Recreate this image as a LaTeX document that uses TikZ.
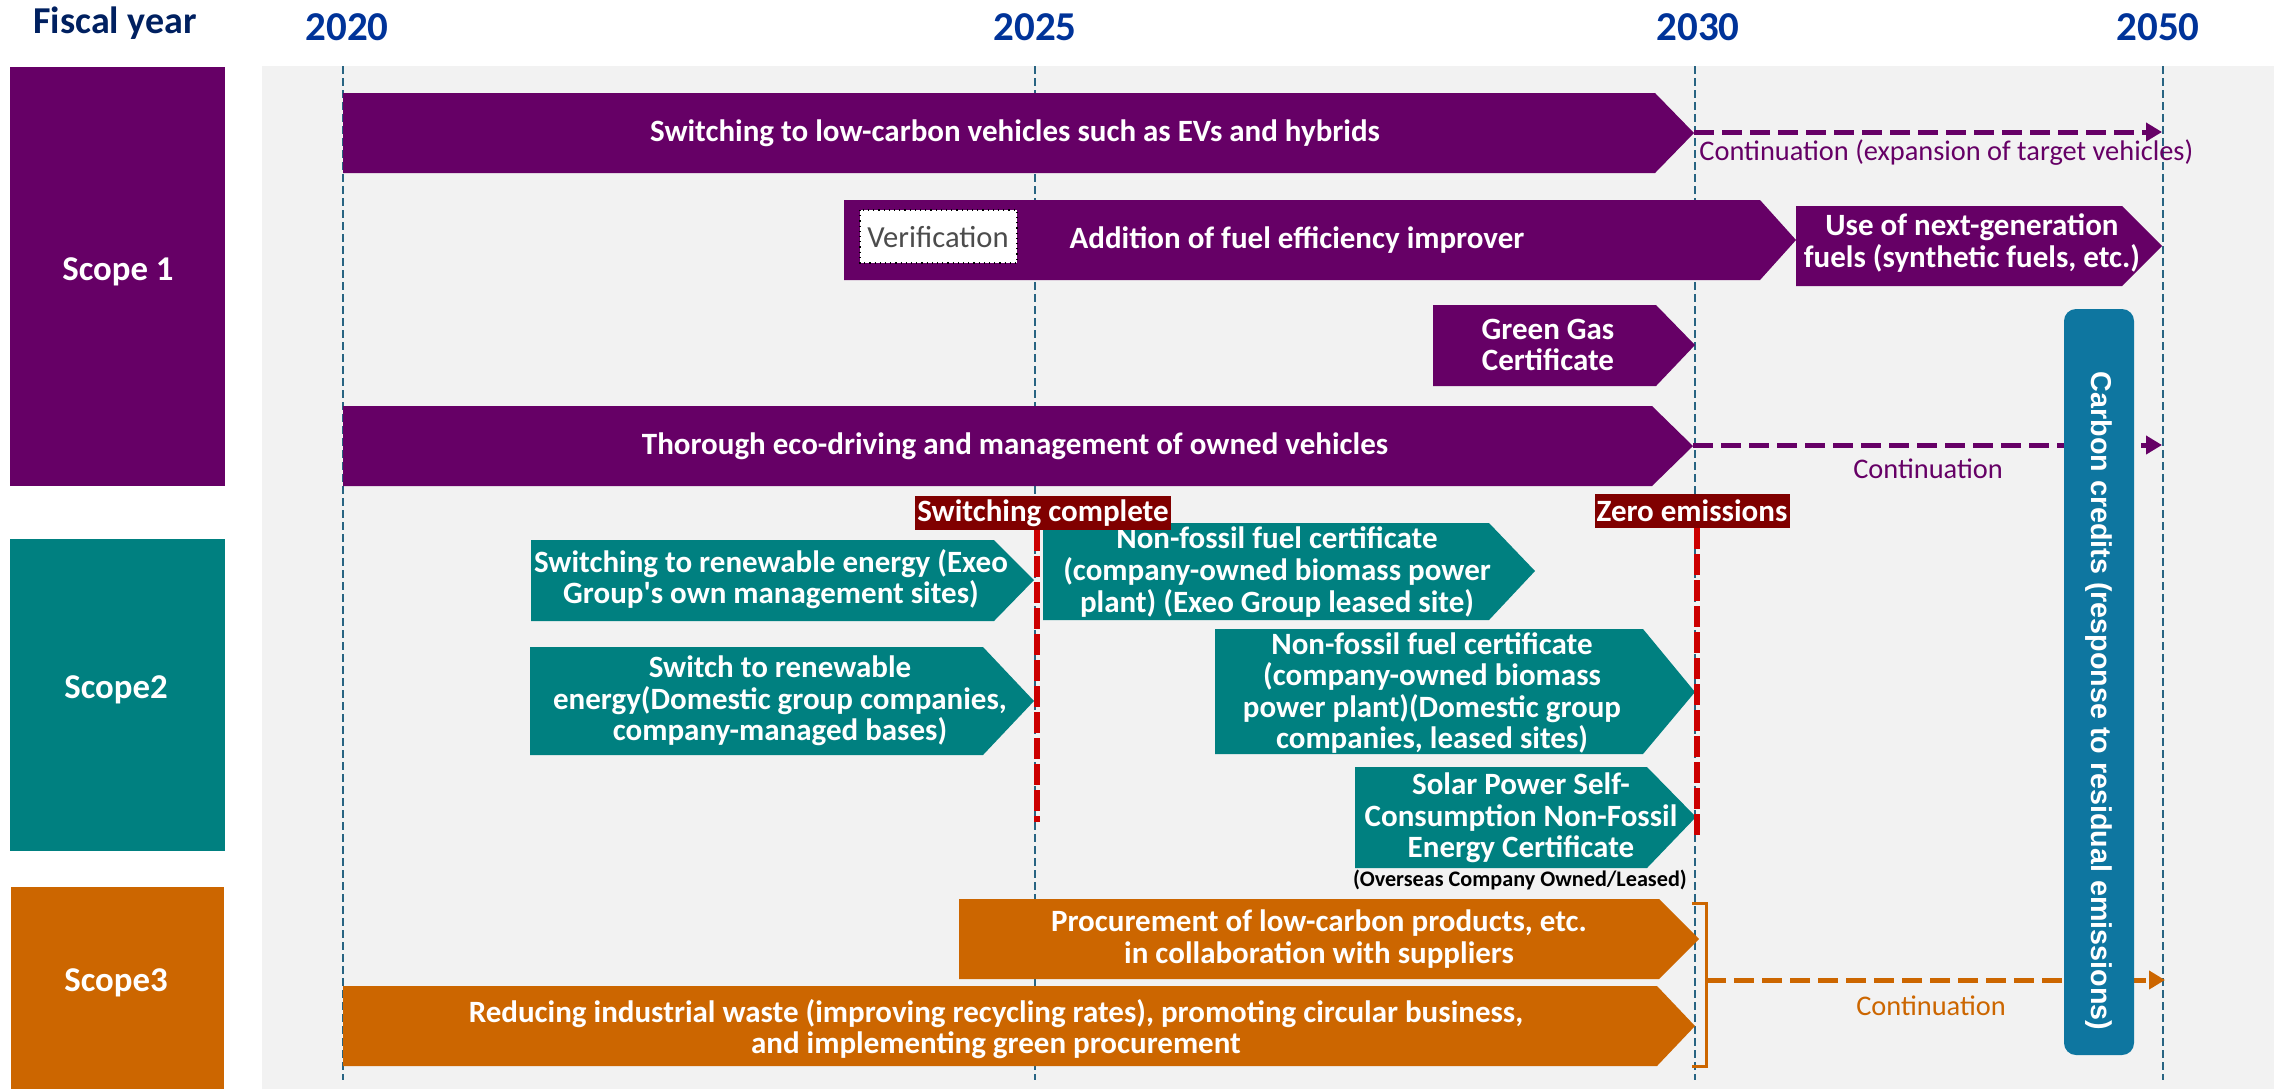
\documentclass[tikz,border=0pt]{standalone}
\usepackage{fontspec}
\setmainfont{Carlito}
\newfontfamily\creditfont{Liberation Sans}
\usepackage{xcolor}
\usepackage{tikz}
\usetikzlibrary{arrows.meta}

\definecolor{scopeOne}{RGB}{102,0,102}
\definecolor{scopeTwo}{RGB}{0,128,128}
\definecolor{scopeThree}{RGB}{204,102,0}
\definecolor{creditBlue}{RGB}{14,118,160}
\definecolor{panelGray}{RGB}{242,242,242}
\definecolor{yearBlue}{RGB}{0,51,153}
\definecolor{fiscalNavy}{RGB}{0,32,96}
\definecolor{guideBlue}{RGB}{40,100,130}
\definecolor{flagRed}{RGB}{128,0,0}
\definecolor{dashRed}{RGB}{204,0,0}

\begin{document}
\begin{tikzpicture}[x=0.5pt,y=0.5pt,yscale=-1,xscale=1,
  bartext/.style={text=white,font=\bfseries\fontsize{15.5}{15.8}\selectfont,align=center,inner sep=0pt},
  scopetext/.style={text=white,font=\bfseries\fontsize{17.4}{20}\selectfont,inner sep=0pt},
  yearlbl/.style={text=yearBlue,font=\bfseries\fontsize{20.5}{24}\selectfont,anchor=base,inner sep=0pt},
  contlabel/.style={font=\fontsize{14.2}{16}\selectfont,inner sep=0pt},
  guide/.style={draw=guideBlue,line width=0.7pt,dash pattern=on 4pt off 2pt},
  contarrow/.style={line width=2.5pt,dash pattern=on 10pt off 4pt,-{Triangle[length=8pt,width=9pt]}},
  redline/.style={draw=dashRed,line width=3.3pt,dash pattern=on 10.5pt off 2.5pt},
  flag/.style={fill=flagRed,text=white,font=\bfseries\fontsize{15.5}{17}\selectfont,inner sep=0pt,minimum height=17pt}]
\useasboundingbox (0,0) rectangle (2285,1089);

%Shape: Rectangle [panel]
\fill [panelGray] (262,66) rectangle (2274,1089);
%Straight Lines [year guides]
\draw [guide] (343,66) -- (343,1080) ;
\draw [guide] (1035,66) -- (1035,1080) ;
\draw [guide] (1695,66) -- (1695,1080) ;
\draw [guide] (2163,66) -- (2163,1080) ;

% Text Node
\draw (115,33) node (fiscal) [anchor=base,inner sep=0pt,text=fiscalNavy,font=\bfseries\fontsize{19}{22}\selectfont] {Fiscal year};
\draw (347,40) node (y2020) [yearlbl] {2020};
\draw (1035,40) node (y2025) [yearlbl] {2025};
\draw (1698,40) node (y2030) [yearlbl] {2030};
\draw (2158,40) node (y2050) [yearlbl] {2050};

%Shape: Rectangle [scopes]
\fill [scopeOne] (10,67) rectangle (225,486);
\fill [scopeTwo] (10,539) rectangle (225,851);
\fill [scopeThree] (11,887) rectangle (224,1089);
\draw (118,272) node (scope1) [scopetext] {Scope 1};
\draw (116,690) node (scope2) [scopetext] {Scope2};
\draw (116,983) node (scope3) [scopetext] {Scope3};

%Shape: Pentagon Arrows [scope 1]
\fill [scopeOne] (343,93) -- (1655,93) -- (1694,133) -- (1655,173) -- (343,173) -- cycle;
\fill [scopeOne] (844,200) -- (1760,200) -- (1796,240) -- (1760,280) -- (844,280) -- cycle;
\fill [scopeOne] (1796,206) -- (2122,206) -- (2162,246) -- (2122,286) -- (1796,286) -- cycle;
\fill [scopeOne] (1433,305) -- (1656,305) -- (1695,345) -- (1656,386) -- (1433,386) -- cycle;
\fill [scopeOne] (343,406) -- (1652,406) -- (1693,446) -- (1652,486) -- (343,486) -- cycle;

% Text Node
\draw (1015,133) node (evs) [bartext] {Switching to low-carbon vehicles such as EVs and hybrids};
\draw (1297,240) node (improver) [bartext] {Addition of fuel efficiency improver};
\draw (1972,243) node (nextgen) [bartext] {Use of next-generation\\fuels (synthetic fuels, etc.)};
\draw (1548,345) node (greengas) [bartext] {Green Gas\\Certificate};
\draw (1015,446) node (ecodrive) [bartext] {Thorough eco-driving and management of owned vehicles};

%Shape: Rectangle [verification]
\draw [fill=white,dotted,line width=0.6pt] (860,210) rectangle (1017,263) ;
\draw (938,237) node (verify) [inner sep=0pt,text=black!70,font=\fontsize{15.3}{17}\selectfont] {Verification};

%Straight Lines [continuation]
\coordinate (evsend) at (2162,132);
\coordinate (driveend) at (2162,445);
\coordinate (wasteend) at (2165,980);
\draw [contarrow,scopeOne] (1694,132) -- (evsend) ;
\draw [contarrow,scopeOne] (1693,445) -- (driveend) ;
\draw (1699,153) node (contevs) [contlabel,anchor=west,text=scopeOne] {Continuation (expansion of target vehicles)};
\draw (1928,469) node (contdrive) [contlabel,text=scopeOne] {Continuation};

%Shape: Pentagon Arrows [scope 2]
\fill [scopeTwo] (531,540) -- (994,540) -- (1034,580) -- (994,621) -- (531,621) -- cycle;
\fill [scopeTwo] (1043,523) -- (1489,523) -- (1535,571) -- (1489,620) -- (1043,620) -- cycle;
\fill [scopeTwo] (530,647) -- (983,647) -- (1034,701) -- (983,755) -- (530,755) -- cycle;
\fill [scopeTwo] (1215,629) -- (1643,629) -- (1695,692) -- (1643,754) -- (1215,754) -- cycle;
\fill [scopeTwo] (1355,767) -- (1647,767) -- (1696,817) -- (1647,868) -- (1355,868) -- cycle;

% Text Node
\draw (771,579) node (reexeo) [bartext] {Switching to renewable energy (Exeo\\Group\textquotesingle s own management sites)};
\draw (1277,572) node (nfexeo) [bartext] {Non-fossil fuel certificate\\(company-owned biomass power\\plant) (Exeo Group leased site)};
\draw (780,701) node (redom) [bartext] {Switch to renewable\\energy(Domestic group companies,\\company-managed bases)};
\draw (1432,693) node (nfdom) [bartext] {Non-fossil fuel certificate\\(company-owned biomass\\power plant)(Domestic group\\companies, leased sites)};
\draw (1521,818) node (solar) [bartext] {Solar Power Self-\\Consumption Non-Fossil\\Energy Certificate};
\draw (1520,880) node (overseas) [inner sep=0pt,font=\bfseries\fontsize{11.1}{13}\selectfont] {(Overseas Company Owned/Leased)};

%Shape: Pentagon Arrows [scope 3]
\fill [scopeThree] (959,899) -- (1659,899) -- (1699,939) -- (1659,979) -- (959,979) -- cycle;
\fill [scopeThree] (343,986) -- (1657,986) -- (1695,1026) -- (1657,1066) -- (343,1066) -- cycle;

% Text Node
\draw (1319,939) node (procure) [bartext] {Procurement of low-carbon products, etc.\\in collaboration with suppliers};
\draw (996,1029) node (waste) [bartext] {Reducing industrial waste (improving recycling rates), promoting circular business,\\and implementing green procurement};

%Straight Lines [bracket]
\draw [scopeThree,line width=1.5pt] (1692,903) -- (1706,903) -- (1706,1066) -- (1692,1066) ;
\draw [contarrow,scopeThree] (1706,980) -- (wasteend) ;
\draw (1931,1006) node (contwaste) [contlabel,text=scopeThree] {Continuation};

%Shape: Rounded Rect [carbon credits]
\fill [creditBlue,rounded corners=6pt] (2064,309) rectangle (2134,1055) ;
\draw (2099,701) node (credits) [rotate=-90,inner sep=0pt,text=white,font=\creditfont\bfseries\fontsize{14.35}{16}\selectfont] {Carbon credits (response to residual emissions)};

% Text Node [milestones]
\draw (1043,513) node (swdone) [flag,minimum width=128pt] {Switching complete};
\draw (1692,511) node (zeroem) [flag,minimum width=97.5pt] {Zero emissions};
\coordinate (swline) at (1037,822);
\coordinate (zeroline) at (1697,839);
\draw [redline] (swdone.south -| swline) -- (swline) ;
\draw [redline] (zeroem.south -| zeroline) -- (zeroline) ;
\end{tikzpicture}
\end{document}
